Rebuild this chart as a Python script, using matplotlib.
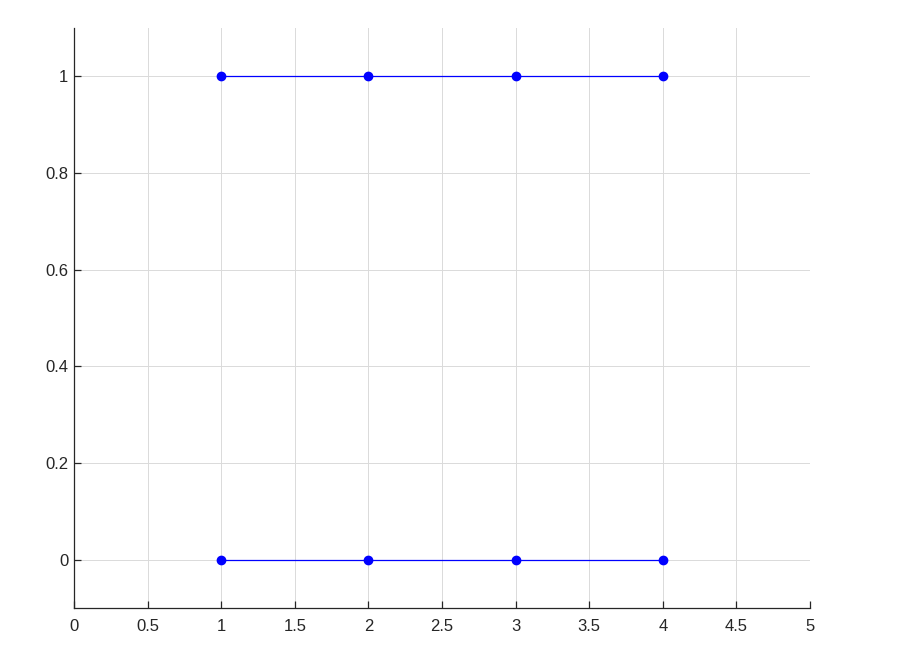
import matplotlib
matplotlib.use("Agg")
import matplotlib.pyplot as plt

# data
x_vals = [1, 2, 3, 4]
upper_y = [1, 1, 1, 1]
lower_y = [0, 0, 0, 0]
x_ticks = [0, 0.5, 1, 1.5, 2, 2.5, 3, 3.5, 4, 4.5, 5]
x_tick_labels = ["0", "0.5", "1", "1.5", "2", "2.5", "3", "3.5", "4", "4.5", "5"]
y_ticks = [0, 0.2, 0.4, 0.6, 0.8, 1]
y_tick_labels = ["0", "0.2", "0.4", "0.6", "0.8", "1"]

plt.rcParams['font.family'] = ['Liberation Sans', 'DejaVu Sans']

fig = plt.figure(figsize=(9.11, 6.56), dpi=100)
ax = fig.add_axes([0.0812, 0.0732, 0.808, 0.884])

for ys in (upper_y, lower_y):
    ax.plot(x_vals, ys, color='blue', linewidth=0.9, marker='o', markersize=6,
            markerfacecolor='blue', markeredgecolor='blue')

ax.set_xlim(0, 5)
ax.set_ylim(-0.1, 1.1)
ax.set_xticks(x_ticks, x_tick_labels)
ax.set_yticks(y_ticks, y_tick_labels)
ax.grid(True, color='#dadada', linewidth=0.7)
ax.set_axisbelow(True)
ax.spines['top'].set_visible(False)
ax.spines['right'].set_visible(False)
for s in ('left', 'bottom'):
    ax.spines[s].set_linewidth(0.9)
    ax.spines[s].set_color('#262626')
ax.tick_params(direction='in', length=5, width=0.9, labelsize=12, colors='#262626')
ax.tick_params(axis='x', pad=8)
ax.tick_params(axis='y', pad=4)

fig.savefig("out.png", dpi=100)
